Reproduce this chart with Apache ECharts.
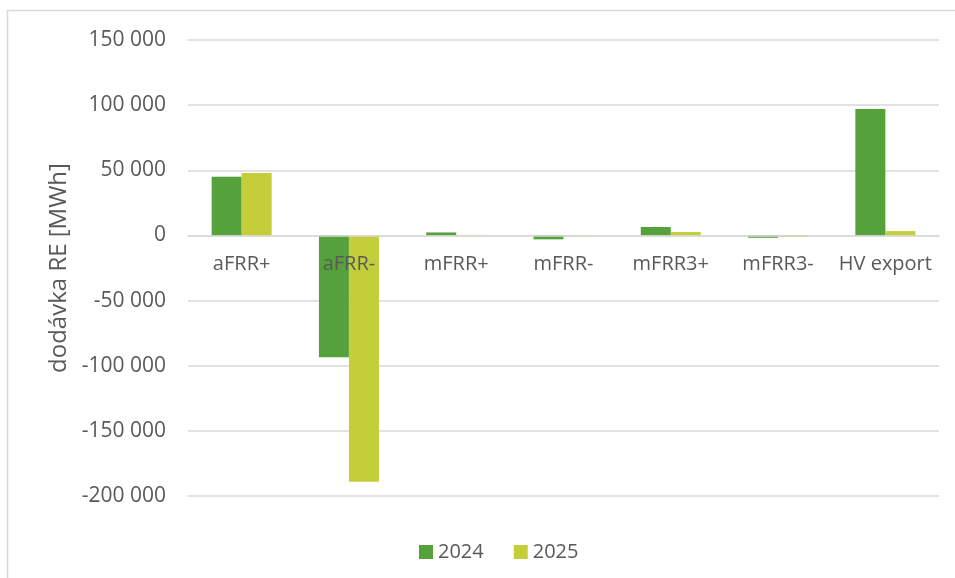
<!DOCTYPE html>
<html>
<head>
<meta charset="utf-8">
<script src="https://cdn.jsdelivr.net/npm/echarts@6/dist/echarts.min.js"></script>
<style>
  html, body { margin: 0; padding: 0; background: #fff; }
  #chart { width: 955px; height: 578px; }
</style>
</head>
<body>
<div id="chart"></div>
<script>
const categories = ["aFRR+", "aFRR-", "mFRR+", "mFRR-", "mFRR3+", "mFRR3-", "HV export"]
const years = ["2024", "2025"]
const values2024 = [45000, -93500, 2300, -3000, 6500, -1800, 97000]
const values2025 = [48000, -189000, 400, -500, 2600, -1200, 3300]
const yTicks = { min: -200000, max: 150000, step: 50000 }

const font = "'Open Sans', 'Liberation Sans', sans-serif"
const textColor = "#595959"
const gridColor = "#d9d9d9"

const myChart = echarts.init(document.getElementById("chart"))
let option = {
  animation: false,
  color: ["#55a13b", "#c3ce3a"],
  textStyle: { fontFamily: font },
  graphic: [
    {
      type: "rect",
      shape: { x: 7.5, y: 10.5, width: 1000, height: 700 },
      style: { fill: "none", stroke: gridColor, lineWidth: 1.5 },
      silent: true
    }
  ],
  grid: {
    left: 188,
    right: 16,
    top: 40,
    bottom: 82
  },
  legend: {
    left: 414,
    top: 537,
    itemWidth: 14,
    itemHeight: 14,
    itemGap: 30,
    icon: "rect",
    textStyle: { fontSize: 20, color: textColor, fontFamily: font },
    data: years
  },
  xAxis: {
    type: "category",
    data: categories,
    z: 5,
    // axis sits on the zero line, like in Excel
    offset: -260,
    axisLine: { onZero: false, lineStyle: { color: gridColor, width: 1.5 } },
    axisTick: { show: false },
    axisLabel: { interval: 0, fontSize: 20, color: textColor, margin: 18, fontFamily: font }
  },
  yAxis: {
    type: "value",
    min: yTicks.min,
    max: yTicks.max,
    interval: yTicks.step,
    name: "dodávka RE [MWh]",
    nameLocation: "middle",
    nameGap: 116,
    nameTextStyle: { fontSize: 24, color: textColor, fontFamily: font },
    axisLine: { show: false },
    axisTick: { show: false },
    splitLine: { lineStyle: { color: gridColor, width: 1.5 } },
    axisLabel: {
      fontSize: 21,
      color: textColor,
      margin: 22,
      fontFamily: font,
      formatter: function (v) {
        let s = Math.abs(v).toString().replace(/\B(?=(\d{3})+(?!\d))/g, " ")
        return (v < 0 ? "-" : "") + s
      }
    }
  },
  series: [
    {
      name: years[0],
      type: "bar",
      data: values2024,
      barWidth: 30,
      barGap: "0%"
    },
    {
      name: years[1],
      type: "bar",
      data: values2025,
      barWidth: 30,
      barGap: "0%"
    }
  ]
}
myChart.setOption(option)
</script>
</body>
</html>
